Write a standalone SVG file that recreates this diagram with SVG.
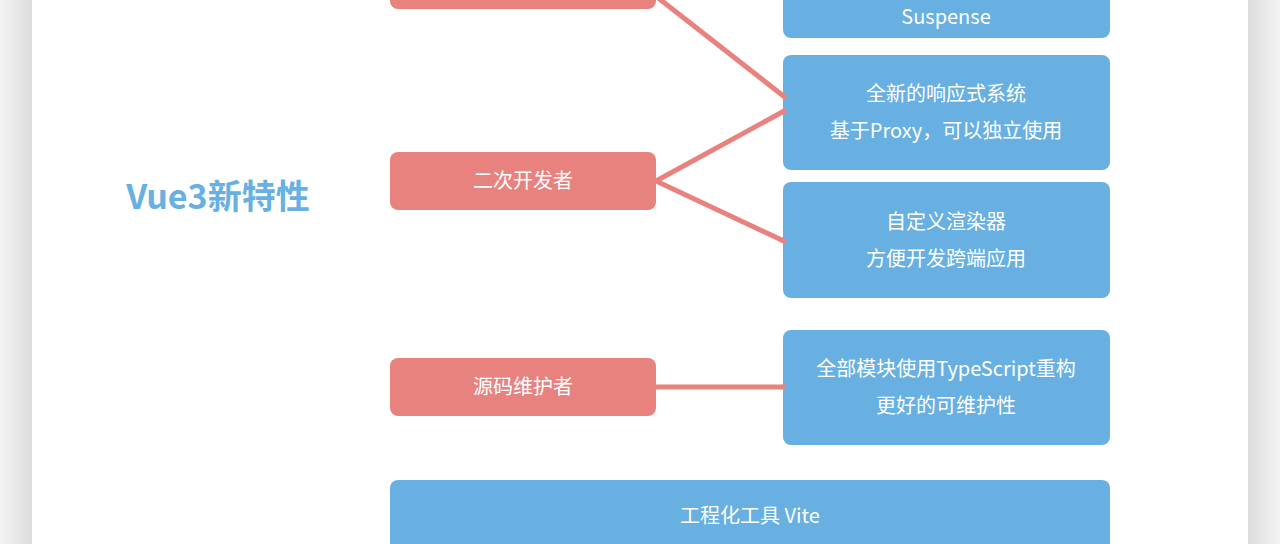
<svg xmlns="http://www.w3.org/2000/svg" width="1280" height="544" viewBox="0 0 1280 544">
<defs>
<linearGradient id="sl" x1="0" x2="1"><stop offset="0" stop-color="#f4f4f4"/><stop offset="1" stop-color="#dcdcdc"/></linearGradient>
<linearGradient id="sr" x1="0" x2="1"><stop offset="0" stop-color="#dcdcdc"/><stop offset="1" stop-color="#f4f4f4"/></linearGradient>
<marker id="ah" viewBox="0 0 10 10" refX="9" refY="5" markerWidth="6" markerHeight="6" markerUnits="userSpaceOnUse" orient="auto">
<path d="M0,0 L10,5 L0,10 z" fill="#e8827f"/></marker>
</defs>
<style>
.p{fill:#e8827f}.b{fill:#68b0e1}
.t{font-family:"Noto Sans CJK SC","Noto Sans",sans-serif;font-size:20px;fill:#fff;text-anchor:middle}
.c{stroke:#e8827f;stroke-width:5;fill:none}
</style>
<rect width="1280" height="544" fill="#f4f4f4"/>
<rect x="0" width="32" height="544" fill="url(#sl)"/>
<rect x="1248" width="32" height="544" fill="url(#sr)"/>
<rect x="32" width="1216" height="544" fill="#fff"/>
<text x="218" y="209" font-family="'Noto Sans CJK SC','Noto Sans',sans-serif" font-size="34" font-weight="bold" fill="#68b0e1" text-anchor="middle">Vue3新特性</text>
<g id="p1"><rect class="p" x="390" y="-50" width="266" height="59" rx="8"/></g>
<g id="p2"><rect class="p" x="390" y="152" width="266" height="58" rx="8"/><text class="t" x="523" y="188">二次开发者</text></g>
<g id="p3"><rect class="p" x="390" y="358" width="266" height="58" rx="8"/><text class="t" x="523" y="394">源码维护者</text></g>
<g id="b1"><rect class="b" x="783" y="-80" width="327" height="118" rx="8"/><text class="t" x="946" y="24">Suspense</text></g>
<g id="b2"><rect class="b" x="783" y="55" width="327" height="115" rx="8"/><text class="t" x="946" y="101">全新的响应式系统</text><text class="t" x="946" y="138">基于Proxy，可以独立使用</text></g>
<g id="b3"><rect class="b" x="783" y="182" width="327" height="116" rx="8"/><text class="t" x="946" y="229">自定义渲染器</text><text class="t" x="946" y="266">方便开发跨端应用</text></g>
<g id="b4"><rect class="b" x="783" y="330" width="327" height="115" rx="8"/><text class="t" x="946" y="376">全部模块使用TypeScript重构</text><text class="t" x="946" y="413">更好的可维护性</text></g>
<g id="b5"><rect class="b" x="390" y="480" width="720" height="100" rx="8"/><text class="t" x="750" y="523">工程化工具 Vite</text></g>
<g id="connectors">
<line class="c" x1="648" y1="-10" x2="786" y2="98" marker-end="url(#ah)"/>
<line class="c" x1="656" y1="181" x2="786" y2="110" marker-end="url(#ah)"/>
<line class="c" x1="656" y1="181" x2="786" y2="242" marker-end="url(#ah)"/>
<line class="c" x1="656" y1="387" x2="786" y2="387" marker-end="url(#ah)"/>
</g>
</svg>
